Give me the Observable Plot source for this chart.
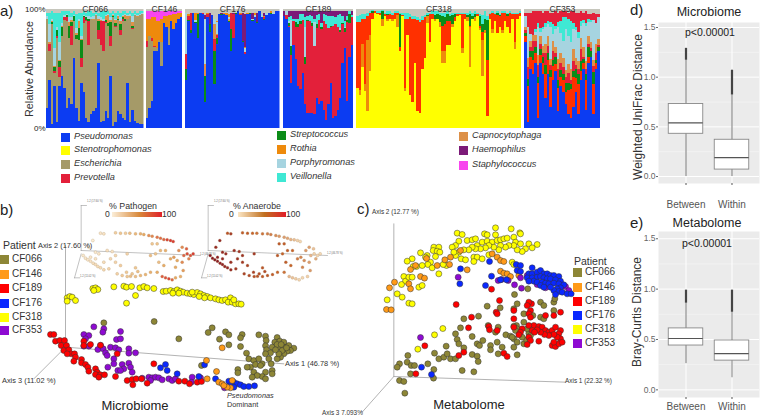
<!DOCTYPE html>
<html><head><meta charset="utf-8">
<script src="https://cdn.jsdelivr.net/npm/d3@7"></script>
<script src="https://cdn.jsdelivr.net/npm/@observablehq/plot@0.6"></script>
<style>
html,body{margin:0;padding:0;background:#fff}
#root{position:relative;width:760px;height:416px;overflow:hidden;font-family:"Liberation Sans",Arial,sans-serif;color:#222}
.l{position:absolute;white-space:nowrap;transform:translateY(-50%);line-height:1}
.s{position:absolute}
</style></head><body><div id="root"></div>
<script>
// ---------- panel a: relative abundance per sample, percent ----------
const genusColors = {Pseudomonas:"#0c3cf2",Stenotrophomonas:"#ffff00",Escherichia:"#a59a68",Prevotella:"#e3203a",Streptococcus:"#0b8c18",Rothia:"#ee8a0c",Porphyromonas:"#a6d4e0",Veillonella:"#3fe8d4",Capnocytophaga:"#dd9048",Haemophilus:"#7c1a78",Staphylococcus:"#f845ee",Other:"#c6c6bc",OtherRed:"#ff3000"};
const legendCol1 = ["Pseudomonas","Stenotrophomonas","Escherichia","Prevotella"];
const legendCol2 = ["Streptococcus","Rothia","Porphyromonas","Veillonella"];
const legendCol3 = ["Capnocytophaga","Haemophilus","Staphylococcus"];

const cf066Pseudomonas=[17,40,3,35,5,35,44,34,17,25,20,59,17,6,38,30,8,5,12,14,17,55,5,6,14,8,44,2,5,14,12,8,7,38,5,15,6,4,3,3];
const cf066Prevotella=[0,6,0,2,1,8,0,2,3,0,16,0,0,0,8,5,1,20,0,0,0,7,20,25,1,0,8,0,1,0,4,2,0,0,0,1,0,0,0,0];
const cf066Streptococcus=[0,0,2,3,5,5,8,0,2,10,3,4,3,10,15,1,2,2,0,0,0,8,0,0,2,2,12,1,2,1,5,1,2,0,0,2,0,0,0,0];
const cf066Capnocytophaga=[0,1,1,1,0,1,1,0,0,3,2,0,2,6,1,0,0,0,0,1,0,2,1,0,3,7,2,1,3,2,3,1,3,2,1,3,0,1,0,0];
const cf066Porphyromonas=[2,15,2,15,3,15,2,2,1,4,2,1,4,2,2,1,1,2,1,2,1,2,2,2,1,1,2,1,1,1,3,1,1,1,2,5,1,1,1,1];
const cf066Veillonella=[3,10,6,30,12,25,10,3,2,5,4,3,12,5,20,3,3,4,5,3,2,3,5,6,3,2,4,2,5,3,4,3,2,2,2,3,2,2,2,1];
const cf066Other=[3,3,2,3,3,3,2,2,2,2,3,2,4,3,3,2,3,2,2,3,2,3,2,2,2,2,3,2,3,2,3,2,2,3,2,3,2,3,2,2];

const cf146Pseudomonas=[8,17,23,65,65,72,52,88,85,70,90,83,88,92,93];
const cf146Escherichia=[60,60,50,3,2,2,20,0,0,14,0,0,0,0,0];
const cf146Prevotella=[5,0,3,1,0,0,0,0,0,0,0,0,0,0,0];
const cf146Staphylococcus=[6,6,5,5,8,8,6,4,4,3,3,2,2,1,1];
const cf146Other=[2,2,2,2,2,2,2,2,2,2,2,2,2,2,2];

const cf176Prevotella=[12,3,15,0,0,0,0,1,0,3,0,0,10,2,0,0,0,0,0,14,20,0,0,1,0,2,0,0,0,0,0,0,0,1,0,0,0,0,0,0];
const cf176Streptococcus=[10,1,2,0,1,20,0,0,22,0,6,0,28,5,0,1,0,0,1,18,0,1,0,0,1,0,0,1,1,0,1,0,0,1,0,0,1,0,0,0];
const cf176Capnocytophaga=[0,0,0,0,0,0,0,0,10,0,0,0,12,1,0,0,0,0,2,0,0,0,0,0,0,0,0,0,0,0,0,0,0,0,0,0,0,0,0,0];
const cf176Porphyromonas=[35,0,0,0,2,0,0,0,38,0,0,0,5,10,0,0,0,0,1,0,0,0,0,0,0,3,0,0,1,2,0,0,3,0,2,0,0,1,0,0];
const cf176Rothia=[0,2,0,0,6,1,0,0,0,1,0,0,0,1,0,0,1,2,3,0,0,0,0,1,0,1,1,0,0,2,0,0,0,1,0,0,1,0,0,0];
const cf176Haemophilus=[0,0,0,0,0,0,0,0,3,0,10,0,0,0,0,1,0,0,0,0,1,0,0,0,24,28,0,0,5,0,8,0,0,3,0,0,0,0,0,0];
const cf176Other=[3,4,3,3,3,3,3,3,5,3,3,5,8,10,4,3,3,3,4,3,3,3,2,3,3,4,3,3,3,3,3,2,4,3,3,3,2,3,2,2];

const cf189Pseudomonas=[94,92,85,38,70,58,35,33,46,20,13,13,13,12,25,20,23,15,7,20,38,8,10,15,25,55,67,23,60,70];
const cf189Streptococcus=[0,0,2,8,0,4,2,3,0,6,1,0,2,0,3,0,2,0,0,0,1,0,0,0,1,1,3,2,8,0];
const cf189Porphyromonas=[0,3,2,22,0,0,0,0,0,25,0,0,0,20,0,0,0,0,0,0,0,0,0,0,2,0,1,0,0,0];
const cf189Veillonella=[0,0,3,3,2,3,5,6,5,8,3,5,6,3,8,5,3,6,8,10,8,8,6,10,12,6,5,3,2,2];
const cf189Haemophilus=[4,0,5,4,6,6,6,2,2,5,4,3,4,6,3,2,10,2,3,4,4,4,5,3,2,4,8,4,0,3];
const cf189Other=[2,2,2,2,2,2,2,2,2,2,2,2,2,2,2,2,2,2,2,2,2,2,2,2,2,2,2,2,2,2];

const cf318Stenotrophomonas=[34,28,51,31,14,48,92,97,96,95,86,94,90,92,90,92,85,65,94,31,78,28,22,55,14,13,50,59,88,72,92,90,92,85,55,55,70,70,85,90,94,95,63,92,90,51,92,90,94,82,44,80,10,92,80,90,80,85,80,90,85,80,92,66,92,94];
const cf318Rothia=[0,4,20,6,60,30,0,0,0,0,6,0,2,0,2,0,10,0,0,3,0,0,0,0,0,0,0,0,6,0,0,2,0,4,10,10,0,0,2,0,0,0,4,0,3,34,0,3,0,2,30,2,0,0,3,0,0,0,2,0,0,0,0,6,0,0];
const cf318Streptococcus=[0,0,0,0,0,0,1,0,0,0,6,0,1,0,0,0,0,28,0,0,0,0,0,0,0,0,0,0,1,0,0,3,4,6,8,6,6,4,8,3,0,0,0,0,2,10,2,3,0,8,6,10,34,0,0,0,2,1,0,0,2,0,0,0,0,0];
const cf318Veillonella=[5,6,4,4,3,1,1,0,1,1,1,1,2,2,2,1,1,1,2,5,5,3,2,2,2,3,3,2,2,1,2,3,2,2,3,4,2,2,2,1,1,1,1,1,2,2,3,2,1,2,8,6,3,1,1,1,1,1,1,1,1,1,1,1,1,1];
const cf318Other=[6,5,4,4,3,2,1,2,2,2,2,3,2,2,3,2,2,3,3,3,3,4,6,6,7,8,6,5,4,3,2,2,2,3,3,3,2,4,3,3,3,3,3,3,4,2,3,4,3,4,5,5,6,3,2,3,2,4,2,2,3,2,3,3,3,2];

const cf353Pseudomonas=[72,5,50,45,55,8,55,45,25,45,18,40,48,14,35,30,20,12,8,18,30,12,40,50,15,55,60,12,50,65];
const cf353RedOrange=[5,30,10,12,8,30,6,10,20,12,25,12,6,20,8,10,10,20,25,25,12,25,8,5,25,5,0,25,5,0];
const cf353Streptococcus=[3,6,5,8,5,5,5,5,8,6,6,5,6,6,6,5,8,6,4,5,8,8,8,3,5,8,5,10,2,3];
const cf353PrevotellaLow=[2,10,3,8,5,10,5,3,10,6,4,8,3,10,6,6,5,8,3,8,3,5,10,2,5,3,2,5,6,2];
const cf353Capnocytophaga=[3,8,5,5,5,8,6,6,8,8,5,8,5,8,8,8,6,8,10,10,6,6,10,8,6,6,5,5,8,5];
const cf353Veillonella=[0,0,0,0,2,3,3,2,3,3,4,8,3,4,10,20,10,15,18,5,3,5,4,3,2,3,2,0,0,0];
const cf353PrevotellaTop=[3,12,18,20,15,10,14,12,10,8,8,10,12,8,8,5,5,5,8,10,12,16,8,6,10,4,5,6,8,3];
const cf353Other=[3,3,3,2,2,2,2,3,2,2,3,3,2,3,2,2,2,3,2,2,3,3,2,3,2,4,4,3,4,4];

// null = the genus that fills the rest of the sample up to 100 %
const abundance = [
 {name:"CF066",n:40,left:46,right:143.5,layers:[["Pseudomonas",cf066Pseudomonas],["Escherichia",null],["Prevotella",cf066Prevotella],["Streptococcus",cf066Streptococcus],["Capnocytophaga",cf066Capnocytophaga],["Porphyromonas",cf066Porphyromonas],["Veillonella",cf066Veillonella],["Other",cf066Other]]},
 {name:"CF146",n:15,left:145.5,right:181.5,layers:[["Pseudomonas",cf146Pseudomonas],["Escherichia",cf146Escherichia],["Prevotella",cf146Prevotella],["Rothia",null],["Staphylococcus",cf146Staphylococcus],["Other",cf146Other]]},
 {name:"CF176",n:40,left:185,right:279.5,layers:[["Pseudomonas",null],["Streptococcus",cf176Streptococcus],["Prevotella",cf176Prevotella],["Capnocytophaga",cf176Capnocytophaga],["Porphyromonas",cf176Porphyromonas],["Rothia",cf176Rothia],["Haemophilus",cf176Haemophilus],["Other",cf176Other]]},
 {name:"CF189",n:30,left:283,right:353,layers:[["Pseudomonas",cf189Pseudomonas],["Prevotella",null],["Streptococcus",cf189Streptococcus],["Porphyromonas",cf189Porphyromonas],["Veillonella",cf189Veillonella],["Haemophilus",cf189Haemophilus],["Other",cf189Other]]},
 {name:"CF318",n:66,left:356,right:521,layers:[["Stenotrophomonas",cf318Stenotrophomonas],["Rothia",cf318Rothia],["OtherRed",null],["Streptococcus",cf318Streptococcus],["Veillonella",cf318Veillonella],["Other",cf318Other]]},
 {name:"CF353",n:30,left:524,right:600,layers:[["Pseudomonas",cf353Pseudomonas],["OtherRed",cf353RedOrange],["Streptococcus",cf353Streptococcus],["Prevotella",cf353PrevotellaLow],["Capnocytophaga",cf353Capnocytophaga],["Porphyromonas",null],["Veillonella",cf353Veillonella],["Prevotella",cf353PrevotellaTop],["Other",cf353Other]]}
];

// ---------- panels b, c: ordination scores (arbitrary axis units) ----------
const patients = ["CF066","CF146","CF189","CF176","CF318","CF353"];
const patientColors = ["#8d8636","#ff9a18","#ff0000","#0a28ff","#ffff00","#8e0ad2"];

const microCF066=[[310,397],[461,393],[535,445],[635,412],[623,426],[675,424],[685,433],[657,446],[685,463],[720,468],[725,432],[720,442],[775,433],[795,437],[797,450],[830,441],[823,455],[838,452],[850,455],[795,466],[798,478],[815,470],[835,470],[850,470],[865,465],[880,473],[870,480],[860,482],[850,490],[840,500],[830,505],[845,480],[835,490],[810,487],[795,490],[805,505],[738,488],[745,505],[760,510],[775,505],[785,520],[750,530],[760,545],[740,530],[712,537],[712,547],[765,522],[795,545],[815,540],[815,550],[785,558],[795,565],[770,555],[755,560],[603,525],[830,462],[842,462],[858,472],[825,478],[780,525],[812,520]];
const microCF146=[[618,510],[648,543],[665,472],[620,565],[655,575],[665,580],[695,570],[690,592],[680,590],[670,585]];
const microCF353=[[280,409],[310,415],[307,425],[360,423],[250,432],[265,435],[255,445],[348,447],[360,445],[250,467],[265,467],[300,465],[292,477],[308,475],[330,470],[345,472],[355,478],[385,475],[315,487],[320,495],[340,505],[385,488],[405,487],[322,530],[340,520],[385,518],[365,522],[370,535],[352,540],[360,540],[390,530],[395,545],[425,563],[445,560],[455,562],[465,560],[475,562],[485,568],[505,565],[515,570],[525,565],[575,560],[572,575],[600,562],[450,570],[672,592],[700,580]];
const microCF189=[[150,432],[160,432],[165,452],[178,450],[192,450],[182,465],[198,465],[190,480],[205,478],[212,490],[200,490],[222,490],[225,500],[220,512],[243,507],[243,517],[255,522],[262,530],[265,542],[285,535],[290,545],[285,552],[300,553],[312,553],[295,560],[345,558],[250,452],[250,465],[270,462],[300,464],[350,490],[380,570],[395,567],[407,565],[397,583],[460,520],[423,565],[440,578],[535,572],[553,572],[567,580],[590,575],[603,573]];
const microCF176=[[480,532],[495,522],[500,540],[530,550],[612,523],[595,558],[645,565],[690,575],[700,575],[685,572],[710,580],[720,583],[730,588],[745,588],[762,586],[690,585],[700,590]];
const microCF318=[[200,322],[208,318],[215,320],[225,330],[200,332],[378,338],[405,315],[277,294],[285,292],[292,297],[280,300],[340,289],[370,287],[378,290],[393,288],[418,292],[430,288],[440,292],[460,294],[488,303],[497,302],[510,300],[520,303],[530,298],[540,302],[548,305],[560,308],[570,310],[580,312],[590,306],[600,310],[610,315],[620,318],[630,322],[645,325],[655,328],[665,330],[675,328],[690,322],[683,335],[695,335],[705,340],[715,340],[722,341],[700,328],[612,322],[596,318],[575,305],[535,308],[517,308]];

// x, y, % pathogen, % anaerobe
const insetScores=[[300,128,8,60],[310,130,10,75],[345,127,25,55],[360,128,30,55],[375,128,25,50],[388,128,35,45],[405,130,40,45],[420,130,45,40],[430,132,50,40],[445,135,60,35],[455,137,62,30],[470,140,70,28],[480,143,72,25],[490,147,75,20],[500,148,88,15],[510,150,92,8],[518,153,90,5],[277,150,3,90],[265,170,5,88],[248,195,6,98],[255,203,8,98],[262,208,8,98],[270,212,10,95],[278,218,12,95],[285,222,14,92],[292,228,15,90],[300,232,15,90],[310,238,18,88],[270,200,8,95],[285,205,10,90],[285,185,6,88],[295,190,8,88],[320,180,12,85],[335,183,10,82],[330,205,18,82],[345,215,20,78],[360,225,25,72],[378,245,28,72],[395,250,30,65],[405,232,30,60],[412,243,35,65],[350,250,22,72],[365,255,28,68],[380,258,30,62],[390,257,35,60],[405,258,35,58],[420,255,40,58],[435,252,42,55],[450,245,45,50],[470,245,48,45],[485,258,78,18],[495,262,82,14],[505,265,88,10],[515,268,75,6],[525,262,50,6],[540,258,45,8],[548,240,55,30],[525,230,48,38],[510,205,50,42],[520,200,55,38],[530,210,50,34],[545,215,62,28],[550,195,75,18],[560,190,85,8],[570,195,82,6],[578,190,90,5],[565,205,65,22],[480,180,40,55],[495,180,45,50],[455,160,30,58],[470,160,32,55],[450,195,35,58],[465,190,32,52],[535,180,60,30],[545,170,62,28],[558,175,78,14],[490,225,48,50],[475,215,35,55],[345,195,18,82],[380,190,20,78],[310,215,14,85],[325,235,20,78]];

const metaCF066=[[193,608],[177,570],[190,573],[279,563],[210,550],[365,540],[400,544],[280,537],[177,520],[170,530],[202,495],[200,515],[212,525],[222,525],[262,520],[282,488],[295,505],[310,500],[320,490],[330,505],[345,505],[395,492],[410,497],[413,513],[370,472],[345,430],[350,447],[355,460],[317,467],[360,412],[395,438],[410,460],[417,465],[427,450],[450,465],[450,478],[473,490],[370,385],[414,377],[440,347],[479,352],[443,405],[465,425],[473,410],[496,433],[510,437],[520,445],[530,455],[470,455],[485,470],[520,470],[530,493],[550,460],[558,448],[565,428],[570,435],[528,405],[520,407],[530,415],[550,395],[530,340],[520,355],[522,312],[562,295],[600,335],[610,345],[640,335],[640,360],[600,380],[610,385],[550,370],[577,375],[525,420],[515,440],[560,415],[545,440],[643,325]];
const metaCF146=[[162,275],[147,292],[138,357],[152,358],[210,237],[225,225],[240,258],[252,263],[205,280],[210,295],[258,204],[313,208],[330,200],[327,222],[380,238],[360,180],[455,190],[470,200],[480,210],[490,213],[480,242],[490,248],[500,250],[510,258],[535,255],[290,225]];
const metaCF318=[[465,112],[350,128],[365,132],[432,130],[440,133],[465,133],[512,115],[538,127],[540,130],[380,150],[395,148],[405,145],[355,152],[345,165],[335,170],[410,165],[425,155],[440,152],[455,155],[470,150],[480,148],[490,145],[500,143],[520,140],[525,155],[540,160],[565,160],[590,162],[575,172],[555,175],[545,183],[530,178],[520,165],[505,165],[495,170],[480,165],[475,178],[460,170],[445,165],[435,172],[420,175],[405,175],[395,170],[385,178],[370,178],[355,185],[345,195],[340,185],[362,205],[375,208],[400,200],[410,200],[400,213],[425,205],[445,193],[280,170],[295,170],[278,180],[290,182],[298,185],[240,187],[215,205],[200,212],[260,195],[255,200],[285,198],[270,215],[262,222],[275,232],[295,250],[245,225],[228,228],[218,228],[190,258],[195,272],[183,282],[205,260],[215,260],[235,290],[245,285],[170,310],[185,320],[140,328],[205,338],[215,340],[515,215],[520,222],[318,225],[308,222],[282,433],[232,476],[307,414]];
const metaCF189=[[347,342],[453,296],[477,330],[573,340],[393,380],[384,412],[253,466],[370,485],[355,495],[226,550],[490,488],[500,498],[467,365],[470,370],[520,360],[520,385],[565,335],[570,360],[565,370],[570,380],[560,345],[615,375],[640,375],[660,365],[580,405],[565,405],[595,408],[605,410],[615,420],[625,425],[635,420],[645,410],[660,420],[655,430],[660,445],[650,440],[640,432],[625,435],[612,432],[600,425],[590,418],[545,415],[540,425],[535,433],[575,420],[582,425],[565,440],[570,450],[560,462],[595,452],[635,465],[645,468],[655,460],[665,455],[640,455],[445,408],[447,418],[470,420],[520,410]];
const metaCF176=[[447,213],[527,222],[540,225],[530,240],[540,243],[360,235],[453,257],[435,285],[358,280],[480,268],[575,232],[565,250],[575,250],[590,245],[600,240],[610,250],[620,250],[630,255],[640,255],[655,258],[560,262],[575,262],[590,260],[600,258],[610,262],[620,265],[630,265],[645,268],[660,272],[580,272],[590,275],[605,275],[615,278],[625,280],[640,278],[655,280],[670,283],[660,292],[650,295],[640,300],[655,303],[645,312],[665,305],[680,310],[692,310],[600,285],[610,290],[630,290],[565,272],[243,530],[273,552],[498,268]];
const metaCF353=[[353,260],[473,270],[483,267],[503,270],[522,283],[540,262],[543,293],[560,255],[590,282],[615,292],[658,280],[675,288],[685,300],[240,441]];

// ---------- panels d, e: box summaries ----------
const boxGroups=["Between","Within"];
const microLow=[0,0], microQ1=[0.43,0.07], microMedian=[0.54,0.19], microQ3=[0.73,0.37], microHigh=[1.17,0.82], microMax=[1.29,1.07];
const metaLow=[0.26,0.12], metaQ1=[0.44,0.29], metaMedian=[0.51,0.36], metaQ3=[0.61,0.49], metaHigh=[0.86,0.77], metaMax=[0.99,0.99];
const yTicks=[0,0.5,1,1.5], yMinor=[0.25,0.75,1.25];

// ---------- helpers ----------
const root=document.getElementById("root");
const FONT='"Liberation Sans",Arial,sans-serif';
function place(svg,x,y){svg.style.position="absolute";svg.style.left=x+"px";svg.style.top=y+"px";svg.style.maxWidth="none";root.append(svg);}
function label(t,x,y,size,o={}){const d=document.createElement("div");d.className="l";d.innerHTML=t;d.style.left=x+"px";d.style.top=y+"px";d.style.fontSize=size+"px";
 if(o.italic)d.style.fontStyle="italic"; if(o.color)d.style.color=o.color;
 if(o.center)d.style.transform="translate(-50%,-50%)";
 if(o.rot)d.style.transform="translate(-50%,-50%) rotate(-90deg)";
 root.append(d);}
function swatch(x,y,w,h,c){const d=document.createElement("div");d.className="s";d.style.cssText+=`left:${x}px;top:${y}px;width:${w}px;height:${h}px;background:${c}`;root.append(d);}
const baseStyle={background:"transparent",fontFamily:FONT};

// ---------- draw panel a ----------
const genusDomain=Object.keys(genusColors), genusRange=Object.values(genusColors);
abundance.forEach((p,k)=>{
  const rows=[];
  for(let i=0;i<p.n;i++){
    const sum=d3.sum(p.layers,([,a])=>a?(a[i]||0):0);
    for(const [g,a] of p.layers) rows.push({i,genus:g,v:a?(a[i]||0):Math.max(0,100-sum)});
  }
  const ml=k===0?p.left:0;
  const w=p.right-p.left+ml;
  const marks=[
    Plot.barY(rows,{x:"i",y:"v",fill:"genus",shapeRendering:"crispEdges",clip:true}),
    Plot.text([p.name],{frameAnchor:"top",dy:-4,fontSize:8.6,fill:"#333"})
  ];
  if(k===0){
    marks.push(Plot.axisY({ticks:[0,100],tickFormat:d=>d+"%",tickSize:0,tickPadding:1,fontSize:8,label:null}));
    marks.push(Plot.text(["Relative Abundance"],{frameAnchor:"left",textAnchor:"middle",dx:-17,rotate:-90,fontSize:10.8,fill:"#333"}));
  }
  const svg=Plot.plot({width:w,height:133,marginTop:9,marginBottom:5,marginLeft:ml,marginRight:0,
    x:{type:"band",domain:d3.range(p.n),padding:0,round:false,axis:null},
    y:{domain:[0,100],...(k===0?{}:{axis:null})},
    color:{domain:genusDomain,range:genusRange},style:baseStyle,marks});
  place(svg,k===0?0:p.left,0);
});
label("a)",0,10,15);
const colA=[[61,74,legendCol1,[137,150,164,178]],[277,290,legendCol2,[135,149,163,177]],[459,472,legendCol3,[136,150,165]]];
colA.forEach(([sx,tx,names,ys])=>names.forEach((g,i)=>{swatch(sx,ys[i]-4,8.5,8.5,genusColors[g]);label(g,tx,ys[i],9.2,{italic:true,color:"#333"});}));

// ---------- scatter plots ----------
const scaleOpts=(w,h)=>({x:{domain:[0,w*3],axis:null},y:{domain:[h*3,0],axis:null}});
function scatterSvg(w,h,sets,axisLines){
  const rows=[];
  sets.forEach(([name,pts])=>pts.forEach(([x,y])=>rows.push({x,y,patient:name})));
  return Plot.plot({width:w,height:h,margin:0,...scaleOpts(w,h),
    color:{domain:patients,range:patientColors},style:baseStyle,
    marks:[
      ...axisLines.map(l=>Plot.line(l,{x:"0",y:"1",stroke:"#aaa",strokeWidth:.9})),
      Plot.dot(rows,{x:"x",y:"y",fill:"patient",r:3,stroke:"#333",strokeWidth:.5})
    ]});
}
function insetSvg(field,range){
  return Plot.plot({width:340,height:100,margin:0,...scaleOpts(340,100),
    color:{type:"linear",domain:[0,50,100],range},style:baseStyle,
    marks:[
      Plot.line([[242,45],[242,180]],{x:"0",y:"1",stroke:"#999",strokeWidth:.6}),
      Plot.line([[242,180],[600,195]],{x:"0",y:"1",stroke:"#999",strokeWidth:.6}),
      Plot.line([[242,190],[222,262]],{x:"0",y:"1",stroke:"#999",strokeWidth:.6}),
      Plot.line([[242,45],[258,45]],{x:"0",y:"1",stroke:"#999",strokeWidth:.6}),
      Plot.line([[222,262],[238,262]],{x:"0",y:"1",stroke:"#999",strokeWidth:.6}),
      Plot.dot(insetScores,{x:"0",y:"1",fill:d=>d[field],r:1.5,stroke:"#b09870",strokeWidth:.3})
    ]});
}
const pathRange=["#fdf2de","#e8a860","#d81e26"], anaRange=["#fbe6c4","#c8622a","#861424"];
place(insetSvg(2,pathRange),0,190);
place(insetSvg(3,anaRange),127,190);

place(scatterSvg(340,226,[["CF318",microCF318],["CF066",microCF066],["CF353",microCF353],["CF189",microCF189],["CF176",microCF176],["CF146",microCF146]],
  [[[195,165],[195,470]],[[195,470],[850,520]],[[195,470],[100,565]]]),0,190);
place(scatterSvg(280,226,[["CF318",metaCF318],["CF146",metaCF146],["CF066",metaCF066],["CF189",metaCF189],["CF353",metaCF353],["CF176",metaCF176]],
  [[[160,100],[160,558]],[[160,558],[675,575]],[[160,558],[65,665]]]),340,190);

label("b)",0,209,15);
label("Patient",3,245,10.5,{color:"#333"});
[259,274,288,303,317,330].forEach((y,i)=>{swatch(0,y-4,8.5,8.5,patientColors[i]);label(patients[i],12,y,10,{color:"#333"});});
label("Axis 2 (17.60 %)",38,246,7.4,{color:"#333"});
label("Axis 1 (46.78 %)",285,364,7.4,{color:"#333"});
label("Axis 3 (11.02 %)",2,381,7.4,{color:"#333"});
label("Pseudomonas",227,396,7.3,{italic:true,color:"#333"});
label("Dominant",227,405,7.3,{color:"#333"});
label("Microbiome",135,405,13,{center:true});
label("% Pathogen",133,206,8.8,{center:true,color:"#333"});
label("0",105,214,8.6,{color:"#333"});
label("100",162,214,8.6,{color:"#333"});
label("% Anaerobe",257,206,8.8,{center:true,color:"#333"});
label("0",229,214,8.6,{color:"#333"});
label("100",286,214,8.6,{color:"#333"});
swatch(112,212,50,5,"linear-gradient(90deg,#fbeed8,#d8883a 55%,#e0202a)");
swatch(238,212,48,5,"linear-gradient(90deg,#fbe6c4,#c07020 55%,#e01c28)");
["1.2 (17.60 %)"].forEach(t=>{label(t,87,202,2.6,{color:"#666"});label(t,214,202,2.6,{color:"#666"});});
["1.2 (11.02 %)"].forEach(t=>{label(t,80,277,2.6,{color:"#666"});label(t,207,277,2.6,{color:"#666"});});
["1.2 (46.78 %)"].forEach(t=>{label(t,200,255,2.6,{color:"#666"});label(t,327,254,2.6,{color:"#666"});});

label("c)",357,208,15);
label("Axis 2 (12.77 %)",372,212,6.4,{color:"#333"});
label("Axis 1 (22.32 %)",565,381,6.4,{color:"#333"});
label("Axis 3 7.093%",322,413,6.4,{color:"#333"});
label("Metabolome",469,404,13,{center:true});
label("Patient",574,261,10.5,{color:"#333"});
[272,287,301,315,329,343].forEach((y,i)=>{swatch(573,y-4,8.5,8.5,patientColors[i]);label(patients[i],585,y,10,{color:"#333"});});

// ---------- box plots ----------
function boxSvg(low,q1,med,q3,high,max,o){
  const rows=boxGroups.map((group,i)=>({group,low:low[i],q1:q1[i],med:med[i],q3:q3[i],high:high[i],max:max[i],wc:o.whisker[i],ww:o.whiskerW[i]}));
  return Plot.plot({width:150,height:o.h,marginTop:o.top,marginBottom:o.bottom,marginLeft:48,marginRight:1,
    x:{domain:boxGroups,paddingInner:.25,paddingOuter:.223,round:false},
    y:{domain:o.domain},style:baseStyle,
    marks:[
      Plot.frame({fill:"#ebebeb",stroke:null}),
      Plot.ruleY(yMinor,{stroke:"#f6f6f6",strokeWidth:.6}),
      Plot.ruleY(yTicks,{stroke:"#fff",strokeWidth:1}),
      Plot.ruleX(boxGroups,{stroke:"#fff",strokeWidth:1}),
      Plot.axisY({ticks:yTicks,tickFormat:d3.format(".1f"),tickSize:2,tickPadding:1,fontSize:8.5,color:"#666",label:null}),
      Plot.axisX({tickSize:2,tickPadding:o.pad,fontSize:10,color:"#555",label:null}),
      Plot.ruleX(rows,{x:"group",y1:"low",y2:"high",stroke:d=>d.wc,strokeWidth:d=>d.ww}),
      Plot.ruleX(rows,{x:"group",y1:"high",y2:"max",stroke:"#444",strokeWidth:2.2}),
      Plot.barY(rows,{x:"group",y1:"q1",y2:"q3",fill:"#fff",stroke:"#888",strokeWidth:.9}),
      Plot.tickY(rows,{x:"group",y:"med",stroke:"#555",strokeWidth:1.1})
    ]});
}
place(boxSvg(microLow,microQ1,microMedian,microQ3,microHigh,microMax,{h:210,top:22,bottom:27,domain:[-0.07,1.55],pad:15,whisker:["#777","#777"],whiskerW:[1,1]}),610,0);
place(boxSvg(metaLow,metaQ1,metaMedian,metaQ3,metaHigh,metaMax,{h:211,top:26,bottom:19,domain:[-0.076,1.572],pad:3,whisker:["#777","#bbb"],whiskerW:[1,2]}),610,205);
label("d)",630,9,15);
label("Microbiome",709,12,12.5,{center:true});
label("p&lt;0.00001",710,32,10.5,{center:true});
label("Weighted UniFrac Distance",638,107,12,{rot:true,color:"#333"});
label("e)",630,222,15);
label("Metabolome",707,223,12.5,{center:true});
label("p&lt;0.00001",707,243,10.5,{center:true});
label("Bray-Curtis Distance",637,312,12,{rot:true,color:"#333"});
</script></body></html>
